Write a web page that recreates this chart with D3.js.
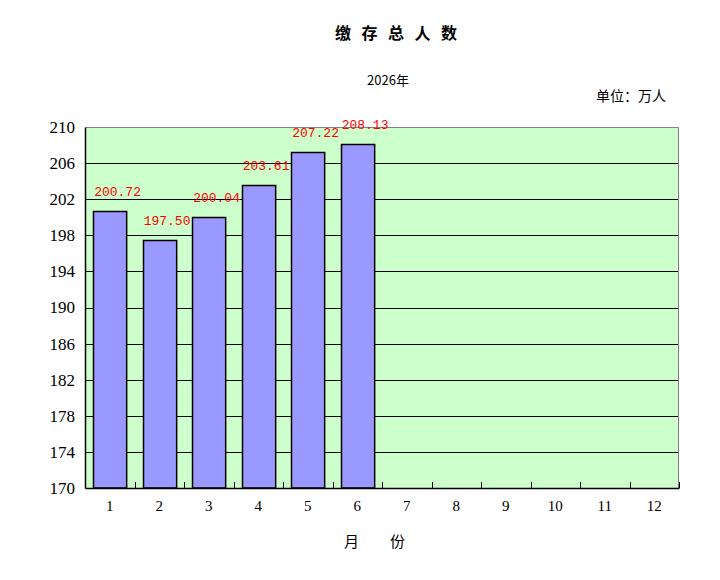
<!DOCTYPE html>
<html>
<head>
<meta charset="utf-8">
<script src="https://cdnjs.cloudflare.com/ajax/libs/d3/7.8.5/d3.min.js"></script>
<style>
  body { margin: 0; background: #fff; }
  svg text { font-family: "Liberation Serif", "Noto Sans CJK SC", serif; }
</style>
</head>
<body>
<div id="chart"></div>
<script>
const months = ["1","2","3","4","5","6","7","8","9","10","11","12"];
const values = [200.72, 197.50, 200.04, 203.61, 207.22, 208.13];
const yTicks = [170,174,178,182,186,190,194,198,202,206,210];

const width = 720, height = 580;
const margin = { top: 127, right: 41, bottom: 92, left: 85 };
const iw = width - margin.left - margin.right;
const ih = height - margin.top - margin.bottom;

const svg = d3.select("#chart").append("svg")
  .attr("width", width).attr("height", height);

const cjk = '"Noto Sans CJK SC", sans-serif';

// title: characters spread out
svg.append("text").attr("x", 335).attr("y", 39)
  .style("font-family", cjk)
  .style("font-size", "16px").style("font-weight", "bold")
  .style("letter-spacing", "10.5px")
  .text("缴存总人数");
svg.append("text").attr("x", 388).attr("y", 85)
  .attr("text-anchor", "middle").style("font-family", cjk)
  .style("font-size", "13px").text("2026年");
svg.append("text").attr("x", 666).attr("y", 101)
  .attr("text-anchor", "end").style("font-family", cjk)
  .style("font-size", "14px").text("单位：万人");

const g = svg.append("g").attr("transform", `translate(${margin.left},${margin.top})`);

const x = d3.scaleBand().domain(months).range([0, iw]).paddingInner(0.33).paddingOuter(0.165);
const xb = d3.scaleLinear().domain([0, 12]).range([0, iw]);
const y = d3.scaleLinear().domain([170, 210]).range([ih, 0]);

g.append("rect").attr("width", iw).attr("height", ih).attr("fill", "#CCFFCC");

g.selectAll(".grid").data(yTicks.slice(1, -1)).join("line")
  .attr("x1", 0).attr("x2", iw)
  .attr("y1", d => Math.round(y(d)) + 0.5).attr("y2", d => Math.round(y(d)) + 0.5)
  .attr("stroke", "#000");

// top and right border
g.append("path").attr("d", `M0.5,${Math.round(y(210)) + 0.5}H${iw - 0.5}V${ih}`)
  .attr("fill", "none").attr("stroke", "#808080");

g.selectAll(".bar").data(values).join("rect")
  .attr("x", (d, i) => Math.round(x(months[i])) + 0.5)
  .attr("y", d => Math.round(y(d)) + 0.5)
  .attr("width", x.bandwidth())
  .attr("height", d => ih - Math.round(y(d)) - 0.5)
  .attr("fill", "#9999FF").attr("stroke", "#000").attr("stroke-width", 1.5);

g.selectAll(".lbl").data(values).join("text")
  .attr("x", (d, i) => x(months[i]) + 1)
  .attr("y", d => y(d) - 15)
  .style("font-family", '"Liberation Mono", "DejaVu Sans Mono", monospace')
  .style("font-size", "13px").attr("fill", "#FF0000")
  .text(d => d.toFixed(2));

// y axis
const yAxis = g.append("g").call(d3.axisLeft(y).tickValues(yTicks).tickSize(0).tickPadding(10));
yAxis.select(".domain").attr("stroke", "#000").attr("stroke-width", 1.5);
yAxis.selectAll("text").style("font-size", "17px").attr("fill", "#000");

// x axis
const xAxis = g.append("g").attr("transform", `translate(0,${ih})`)
  .call(d3.axisBottom(x).tickSize(0).tickPadding(12));
xAxis.select(".domain").attr("stroke", "#000").attr("stroke-width", 1.5);
xAxis.selectAll("text").style("font-size", "15px").attr("fill", "#000");
g.selectAll(".xt").data(d3.range(1, 13)).join("line")
  .attr("x1", d => Math.round(xb(d)) + 0.5).attr("x2", d => Math.round(xb(d)) + 0.5)
  .attr("y1", ih).attr("y2", ih - 6).attr("stroke", "#000");

svg.append("text").attr("x", 344).attr("y", 547)
  .style("font-family", cjk)
  .style("font-size", "15px").style("letter-spacing", "31px").text("月份");
</script>
</body>
</html>
